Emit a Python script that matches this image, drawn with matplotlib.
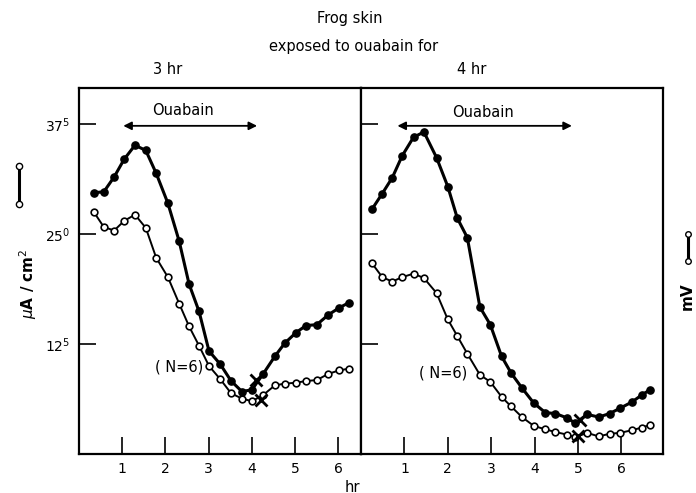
import matplotlib.pyplot as plt

# ---- data ----
# left panel: skin exposed to ouabain for 3 hr
t_3hr = [0.35, 0.58, 0.82, 1.05, 1.30, 1.55, 1.79, 2.06, 2.32, 2.55, 2.78, 3.01, 3.27,
         3.52, 3.77, 4.00, 4.26, 4.53, 4.76, 5.02, 5.25, 5.50, 5.76, 6.01, 6.24]
filled_3hr = [29.7, 29.8, 31.5, 33.5, 35.1, 34.5, 31.9, 28.5, 24.2, 19.3, 16.2, 11.7, 10.2,
              8.3, 7.1, 7.3, 9.1, 11.1, 12.6, 13.8, 14.6, 14.7, 15.8, 16.6, 17.2]
open_3hr = [27.5, 25.8, 25.4, 26.5, 27.2, 25.7, 22.3, 20.1, 17.1, 14.5, 12.3, 10.0, 8.5,
            6.9, 6.3, 6.0, 6.7, 7.8, 8.0, 8.1, 8.3, 8.4, 9.1, 9.5, 9.7]

# right panel: skin exposed to ouabain for 4 hr
t_4hr = [0.25, 0.49, 0.72, 0.95, 1.21, 1.45, 1.74, 2.00, 2.22, 2.45, 2.74, 2.98, 3.24, 3.46,
         3.71, 3.98, 4.25, 4.48, 4.75, 4.94, 5.21, 5.48, 5.73, 5.97, 6.24, 6.47, 6.66]
filled_4hr = [27.8, 29.6, 31.4, 33.9, 36.0, 36.6, 33.7, 30.4, 26.8, 24.6, 16.7, 14.7, 11.1, 9.2,
              7.5, 5.8, 4.7, 4.6, 4.1, 3.5, 4.5, 4.2, 4.6, 5.2, 5.9, 6.7, 7.3]
open_4hr = [21.7, 20.1, 19.6, 20.1, 20.5, 20.0, 18.3, 15.3, 13.4, 11.4, 9.0, 8.2, 6.5, 5.4,
            4.2, 3.2, 2.8, 2.5, 2.2, 1.9, 2.4, 2.0, 2.3, 2.4, 2.7, 3.0, 3.3]

# end-of-ouabain crosses on the curves (hr, value)
cross_3hr = [(4.10, 8.4), (4.20, 6.1)]
cross_4hr = [(5.05, 3.9), (5.00, 2.0)]

# ouabain exposure arrows (start hr, end hr)
ouabain_3hr = (1.03, 4.12)
ouabain_4hr = (0.84, 4.86)

yticks = [12.5, 25.0, 37.5]
ytick_labels = [r'$12^5$', r'$25^0$', r'$37^5$']
xticks = [1, 2, 3, 4, 5, 6]

plt.rcParams['font.family'] = 'DejaVu Sans'
plt.rcParams['font.size'] = 10

fig = plt.figure(figsize=(6.96, 4.93), dpi=100)
W, H = 696.0, 493.0
ax1 = fig.add_axes([78.7 / W, 1 - 454 / H, (361 - 78.7) / W, (454 - 88) / H])
ax2 = fig.add_axes([361 / W, 1 - 454 / H, (663 - 361) / W, (454 - 88) / H])

panels = [(ax1, t_3hr, filled_3hr, open_3hr, cross_3hr, ouabain_3hr, 6.52, (2.32, 9.9), (2.4, 39.0)),
          (ax2, t_4hr, filled_4hr, open_4hr, cross_4hr, ouabain_4hr, 6.96, (1.89, 9.2), (2.82, 38.8))]

for ax, t, yf, yo, crosses, oua, xmax, npos, opos in panels:
    ax.plot(t, yf, '-o', color='black', lw=2.2, ms=5.2, mfc='black', mec='black', zorder=3)
    ax.plot(t, yo, '-o', color='black', lw=1.4, ms=4.8, mfc='white', mec='black', mew=1.2, zorder=3)
    for cx, cy in crosses:
        ax.plot(cx, cy, marker='x', ms=8, mew=2, color='black', zorder=4)
    ax.annotate('', xy=(oua[1], 37.3), xytext=(oua[0], 37.3),
                arrowprops=dict(arrowstyle='<|-|>', color='black', lw=1.3,
                                mutation_scale=12, shrinkA=0, shrinkB=0))
    ax.text(opos[0], opos[1], 'Ouabain', ha='center', va='center', fontsize=10.5)
    ax.text(npos[0], npos[1], '( N=6)', ha='center', va='center', fontsize=10.5)
    ax.set_xlim(0, xmax)
    ax.set_ylim(0, 41.6)
    ax.set_xticks(xticks)
    ax.set_yticks(yticks)
    ax.tick_params(direction='in', length=12, width=1.2, pad=6, labelsize=10)
    for s in ax.spines.values():
        s.set_linewidth(1.6)

ax1.set_yticklabels(ytick_labels)
ax2.set_yticklabels([])

# titles
fig.text(350 / W, 1 - 18 / H, 'Frog skin', ha='center', va='center', fontsize=10.5)
fig.text(354 / W, 1 - 47 / H, 'exposed to ouabain for', ha='center', va='center', fontsize=10.5)
fig.text(168 / W, 1 - 69 / H, '3 hr', ha='center', va='center', fontsize=10.5)
fig.text(472 / W, 1 - 69 / H, '4 hr', ha='center', va='center', fontsize=10.5)
fig.text(352 / W, 1 - 487 / H, 'hr', ha='center', va='center', fontsize=10.5)

# left unit label with open-circle symbol
fig.text(28 / W, 1 - 284 / H, r'$\mu$A / cm$^2$', rotation=90, ha='center', va='center',
         fontsize=11, fontweight='bold')
fig.add_artist(plt.Line2D([19 / W, 19 / W], [1 - 166 / H, 1 - 204 / H], color='black', lw=2.2,
                          marker='o', ms=4.5, mfc='white', mec='black', mew=1))

# right unit label with symbol
fig.text(687 / W, 1 - 296 / H, 'mV', rotation=90, ha='center', va='center', fontsize=11,
         fontweight='bold')
fig.add_artist(plt.Line2D([688 / W, 688 / W], [1 - 234 / H, 1 - 261 / H], color='black', lw=2.2,
                          marker='o', ms=4, mfc='white', mec='black', mew=1))

fig.savefig('out.png', dpi=100)
